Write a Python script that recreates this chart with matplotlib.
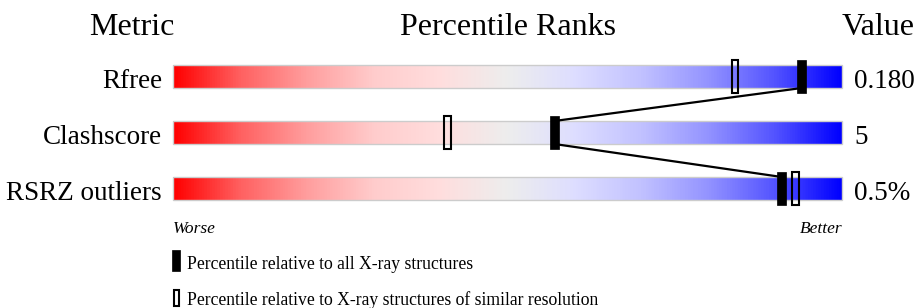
import matplotlib
matplotlib.use('Agg')
import matplotlib.pyplot as plt
import numpy as np
from matplotlib.colors import LinearSegmentedColormap
from matplotlib.patches import Rectangle

plt.rcParams['font.family'] = ['Liberation Serif', 'DejaVu Serif']

# data
metrics = ['Rfree', 'Clashscore', 'RSRZ outliers']
values = ['0.180', '5', '0.5%']
pct_all = [94, 57, 91]        # percentile relative to all X-ray structures
pct_similar = [84, 41, 93]    # percentile relative to similar resolution
legend_labels = ['Percentile relative to all X-ray structures',
                 'Percentile relative to X-ray structures of similar resolution']

# red -> grey -> blue slider colours
slider = LinearSegmentedColormap.from_list('slider', [
    (0.0, (1.0, 0.0, 0.0)),
    (0.1, (1.0, 0.38, 0.38)),
    (0.2, (1.0, 0.62, 0.62)),
    (0.3, (1.0, 0.80, 0.80)),
    (0.4, (1.0, 0.87, 0.87)),
    (0.5, (0.93, 0.93, 0.93)),
    (0.6, (0.87, 0.87, 1.0)),
    (0.7, (0.76, 0.76, 1.0)),
    (0.8, (0.58, 0.58, 1.0)),
    (0.9, (0.33, 0.33, 1.0)),
    (1.0, (0.0, 0.0, 1.0)),
])

W, H = 919, 308
fig = plt.figure(figsize=(W / 100, H / 100), dpi=100)
ax = fig.add_axes([0, 0, 1, 1])
ax.set_axis_off()

# map percentile 0..100 onto pixels 173..842, rows 56 px apart starting at 76.5
x0, x1 = 173, 842
sx = 100 / (x1 - x0)
ax.set_xlim(-x0 * sx, (W - x0) * sx)
row0, step = 76.5, 56
ax.set_ylim((H - row0) / step, -row0 / step)
top = -row0 / step

bar_h = 23 / step
mark_h = 33 / step
grad = np.linspace(0, 1, 512).reshape(1, -1)

for i, (name, val) in enumerate(zip(metrics, values)):
    ax.imshow(grad, cmap=slider, aspect='auto',
              extent=(0, 100, i + bar_h / 2, i - bar_h / 2), zorder=1)
    ax.add_patch(Rectangle((0, i - bar_h / 2), 100, bar_h, fill=False,
                           edgecolor='#cccccc', lw=1, zorder=2))
    ax.text(-11 * sx, i + 0.2, name, ha='right', va='baseline', fontsize=19.5)
    ax.text(100 + 12 * sx, i + 0.2, val, ha='left', va='baseline', fontsize=19.5)

    # open marker (similar resolution)
    ax.add_patch(Rectangle((pct_similar[i] - 0.5, i - mark_h / 2), 1.0, mark_h,
                           facecolor='none', edgecolor='black', lw=1.5, zorder=4))
    # filled marker (all structures)
    ax.add_patch(Rectangle((pct_all[i] - 0.68, i - mark_h / 2), 1.36, mark_h,
                           facecolor='black', edgecolor='black', lw=0.5, zorder=5))

# connecting lines between filled markers
for i in range(len(metrics) - 1):
    ax.plot([pct_all[i], pct_all[i + 1]], [i + bar_h / 2, i + 1 - bar_h / 2],
            color='black', lw=1.6, zorder=3)

# headers
ax.text(-41 * sx, top + 35 / step, 'Metric', ha='center', va='baseline', fontsize=23)
ax.text(50, top + 35 / step, 'Percentile Ranks', ha='center', va='baseline', fontsize=23)
ax.text((915 - x0) * sx, top + 35 / step, 'Value', ha='right', va='baseline', fontsize=23)

# worse / better
ax.text(0, top + 233 / step, 'Worse', ha='left', va='baseline',
        fontsize=12.5, style='italic')
ax.text(100, top + 233 / step, 'Better', ha='right', va='baseline',
        fontsize=12.5, style='italic')

# legend
ax.add_patch(Rectangle((-1 * sx, top + 250 / step), 8 * sx, 21 / step,
                       facecolor='black', edgecolor='black', lw=0.5))
ax.text(14 * sx, top + 269 / step, legend_labels[0], ha='left', va='baseline', fontsize=12.7)
ax.add_patch(Rectangle((0.5 * sx, top + 290 / step), 5 * sx, 16 / step,
                       facecolor='none', edgecolor='black', lw=1.5))
ax.text(14 * sx, top + 305 / step, legend_labels[1], ha='left', va='baseline', fontsize=12.7)

fig.savefig('out.png', dpi=100)
